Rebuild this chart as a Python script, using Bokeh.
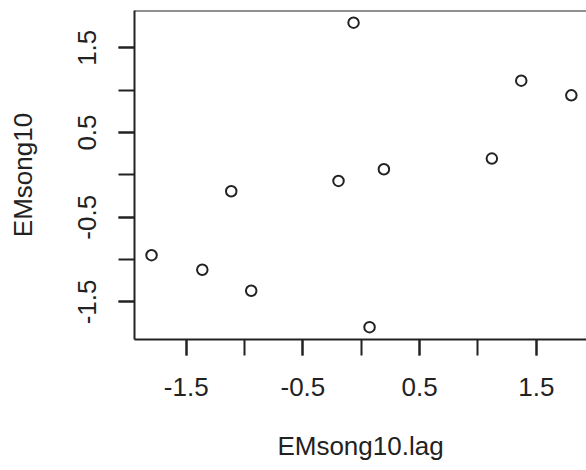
from bokeh.plotting import figure
from bokeh.models import FixedTicker, Range1d, Span, CustomJSTickFormatter
from bokeh.embed import file_html
from bokeh.resources import INLINE

# data
lag = [-1.797, -1.362, -1.114, -0.943, -0.195, -0.066, 0.071, 0.194, 1.119, 1.371, 1.800]
song = [-0.948, -1.120, -0.193, -1.368, -0.071, 1.796, -1.797, 0.066, 0.192, 1.112, 0.939]
label_ticks = [-1.5, -0.5, 0.5, 1.5]
all_ticks = [-1.5, -1.0, -0.5, 0.0, 0.5, 1.0, 1.5]

FONT = "Liberation Sans"
INK = "#222222"

p = figure(width=586, height=470, output_backend="svg", toolbar_location=None,
           x_range=Range1d(-1.943, 1.93), y_range=Range1d(-1.943, 1.94),
           min_border_left=134, min_border_top=10, min_border_right=0, min_border_bottom=131)
p.outline_line_color = None
p.grid.visible = False
p.background_fill_color = "white"
p.border_fill_color = "white"

p.scatter(lag, song, size=10.5, fill_color=None, line_color=INK, line_width=2)

p.add_layout(Span(location=1.94, dimension="width", line_color=INK, line_width=2))

for ax in (p.xaxis[0], p.yaxis[0]):
    ax.ticker = FixedTicker(ticks=label_ticks, minor_ticks=all_ticks)
    ax.formatter = CustomJSTickFormatter(code="return tick.toFixed(1);")
    ax.axis_line_color = INK
    ax.axis_line_width = 2
    ax.major_tick_line_color = INK
    ax.major_tick_line_width = 2
    ax.major_tick_out = 16
    ax.major_tick_in = 0
    ax.minor_tick_line_color = INK
    ax.minor_tick_line_width = 2
    ax.minor_tick_out = 16
    ax.minor_tick_in = 0
    ax.major_label_text_font = FONT
    ax.major_label_text_font_size = "26px"
    ax.major_label_text_color = INK
    ax.axis_label_text_font = FONT
    ax.axis_label_text_font_size = "26px"
    ax.axis_label_text_font_style = "normal"
    ax.axis_label_text_color = INK

p.xaxis.axis_label = "EMsong10.lag"
p.yaxis.axis_label = "EMsong10"
p.xaxis.major_label_standoff = 22
p.xaxis.axis_label_standoff = 32
p.yaxis.major_label_orientation = "vertical"
p.yaxis.major_label_standoff = 22
p.yaxis.axis_label_standoff = 38

open("out.html", "w").write(file_html(p, INLINE))
